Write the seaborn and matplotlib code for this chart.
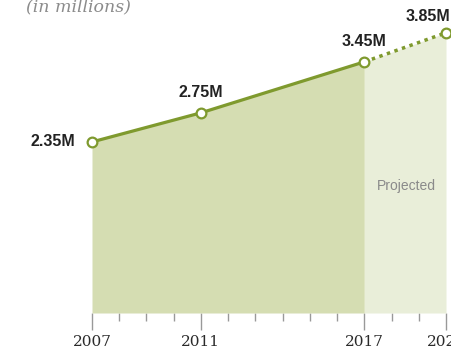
import matplotlib
matplotlib.use("Agg")
import matplotlib.pyplot as plt
import seaborn as sns
import pandas as pd

years = [2007, 2011, 2017, 2020]
values = [2.35, 2.75, 3.45, 3.85]
labels = ["2.35M", "2.75M", "3.45M", "3.85M"]
tick_years = [2007, 2011, 2017, 2020]
minor_years = list(range(2007, 2021))
subtitle = "(in millions)"
proj_text = "Projected"

sns.set_theme(style="white")
plt.rcParams['font.family'] = ['Liberation Sans', 'DejaVu Sans']

line_c = "#7f9a2e"
fill_c = "#d5ddb2"
proj_c = "#e9eed9"

df = pd.DataFrame({"year": years, "value": values})
actual = df[df.year <= 2017]
proj = df[df.year >= 2017]

fig = plt.figure(figsize=(4.52, 3.52), dpi=100)
ax = fig.add_axes([92/452, 39/352, 354/452, 313/352])

ax.fill_between(actual.year, actual.value, 0, color=fill_c, lw=0, zorder=1)
ax.fill_between(proj.year, proj.value, 0, color=proj_c, lw=0, zorder=1)

sns.lineplot(data=actual, x="year", y="value", ax=ax, color=line_c, lw=2.3, zorder=3)
sns.lineplot(data=proj, x="year", y="value", ax=ax, color=line_c, lw=2.5,
             linestyle=(0, (1, 1.3)), zorder=3)
ax.plot(df.year, df.value, "o", ms=7, mfc="white", mec=line_c, mew=1.6,
        zorder=4, clip_on=False)

ax.set_xlim(2007, 2020)
ax.set_ylim(0, 4.30)

lab_kw = dict(fontsize=11.5, fontweight="bold", color="#222222", annotation_clip=False)
ax.annotate(labels[0], (years[0], values[0]), xytext=(-12, 0), textcoords="offset points",
            ha="right", va="center", **lab_kw)
ax.annotate(labels[1], (years[1], values[1]), xytext=(0, 9), textcoords="offset points",
            ha="center", va="bottom", **lab_kw)
ax.annotate(labels[2], (years[2], values[2]), xytext=(0, 9), textcoords="offset points",
            ha="center", va="bottom", **lab_kw)
ax.annotate(labels[3], (years[3], values[3]), xytext=(-13, 6), textcoords="offset points",
            ha="center", va="bottom", **lab_kw)

ax.text(2018.55, 1.75, proj_text, ha="center", va="center", fontsize=10, color="#8a8a8a")

fig.text(26/452, 1 - 7/352, subtitle, ha="left", va="center", fontsize=12.5, style="italic",
         color="#8c8c8c", family=["DejaVu Serif"])

for s in ["left", "top", "right", "bottom"]:
    ax.spines[s].set_visible(False)
ax.set_yticks([])
ax.set_xticks(tick_years)
ax.set_xticks(minor_years, minor=True)
ax.set_xticklabels([str(y) for y in tick_years], fontsize=11, color="#2a2a2a",
                   family=["DejaVu Serif"])
ax.tick_params(axis="x", which="major", bottom=True, length=12, width=1, color="#999999", pad=4)
ax.tick_params(axis="x", which="minor", bottom=True, length=6, width=1, color="#999999")
ax.set_xlabel("")
ax.set_ylabel("")
ax.set_facecolor("none")

fig.savefig("out.png", dpi=100)
